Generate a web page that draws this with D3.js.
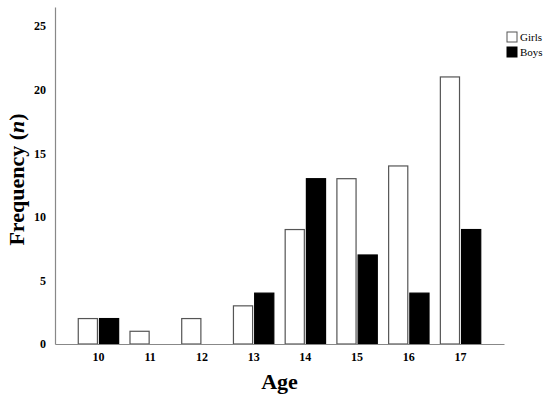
<!DOCTYPE html>
<html>
<head>
<meta charset="utf-8">
<script src="https://cdn.jsdelivr.net/npm/d3@7"></script>
<style>
  body { margin: 0; background: #fff; }
  svg text { font-family: "Liberation Serif", "Times New Roman", serif; }
</style>
</head>
<body>
<div id="chart"></div>
<script>
const width = 550,
    height = 398;

// data
const ages = ["10", "11", "12", "13", "14", "15", "16", "17"];
const series = ["Girls", "Boys"];
const girls = [2, 1, 2, 3, 9, 13, 14, 21];
const boys = [2, 0, 0, 4, 13, 7, 4, 9];
const yTicks = [0, 5, 10, 15, 20, 25];

const margin = { top: 7, right: 46, bottom: 54, left: 55 };
const plotW = width - margin.left - margin.right,
    plotH = height - margin.top - margin.bottom;

const svg = d3.select("#chart")
    .append("svg")
    .attr("width", width)
    .attr("height", height);

const g = svg.append("g")
    .attr("transform", `translate(${margin.left},${margin.top})`);

const x0 = d3.scaleBand()
    .domain(ages)
    .range([0, plotW])
    .paddingInner(0.2)
    .paddingOuter(0.44);

const x1 = d3.scaleBand()
    .domain(series)
    .range([0, x0.bandwidth()])
    .paddingInner(0.05);

const y = d3.scaleLinear()
    .domain([0, 26.5])
    .range([plotH, 0]);

const color = { Girls: "#fff", Boys: "#000" };

const rows = ages.map((a, i) => ({ age: a, values: [
    { key: "Girls", value: girls[i] },
    { key: "Boys", value: boys[i] }
] }));

// bars
const groups = g.selectAll(".grp")
    .data(rows)
    .enter().append("g")
    .attr("class", "grp")
    .attr("transform", d => `translate(${x0(d.age)},0)`);

groups.selectAll("rect")
    .data(d => d.values.filter(v => v.value > 0))
    .enter().append("rect")
    .attr("x", d => x1(d.key) + 0.5)
    .attr("y", d => y(d.value))
    .attr("width", x1.bandwidth() - 1)
    .attr("height", d => y(0) - y(d.value))
    .attr("fill", d => color[d.key])
    .attr("stroke", d => d.key === "Girls" ? "#555" : "#000")
    .attr("stroke-width", 1.2);

// axes
const yAxis = g.append("g")
    .call(d3.axisLeft(y).tickValues(yTicks).tickSize(0).tickPadding(9));
yAxis.select(".domain").attr("stroke", "#888").attr("stroke-width", 1.2);
yAxis.selectAll("text")
    .style("font-size", "12px")
    .style("font-weight", "bold")
    .attr("fill", "#000");

const xAxis = g.append("g")
    .attr("transform", `translate(0,${plotH})`)
    .call(d3.axisBottom(x0).tickSize(0).tickPadding(8));
xAxis.select(".domain").attr("stroke", "#888").attr("stroke-width", 1.2);
xAxis.selectAll("text")
    .style("font-size", "12px")
    .style("font-weight", "bold")
    .attr("fill", "#000");

// axis titles
const yTitle = svg.append("text")
    .attr("transform", `translate(24,${margin.top + plotH / 2 + 4}) rotate(-90)`)
    .attr("text-anchor", "middle")
    .style("font-size", "22px")
    .style("font-weight", "bold");
yTitle.append("tspan").text("Frequency (");
yTitle.append("tspan").style("font-style", "italic").text("n");
yTitle.append("tspan").text(")");

svg.append("text")
    .attr("x", margin.left + plotW / 2)
    .attr("y", 389)
    .attr("text-anchor", "middle")
    .style("font-size", "22px")
    .style("font-weight", "bold")
    .text("Age");

// legend
const legend = svg.append("g")
    .attr("transform", "translate(507,32)");

const items = legend.selectAll(".item")
    .data(series)
    .enter().append("g")
    .attr("class", "item")
    .attr("transform", (d, i) => `translate(0,${i * 15})`);

items.append("rect")
    .attr("width", 10)
    .attr("height", 10)
    .attr("fill", d => color[d])
    .attr("stroke", d => d === "Girls" ? "#555" : "#000");

items.append("text")
    .attr("x", 13)
    .attr("y", 9)
    .style("font-size", "11px")
    .text(d => d);
</script>
</body>
</html>
